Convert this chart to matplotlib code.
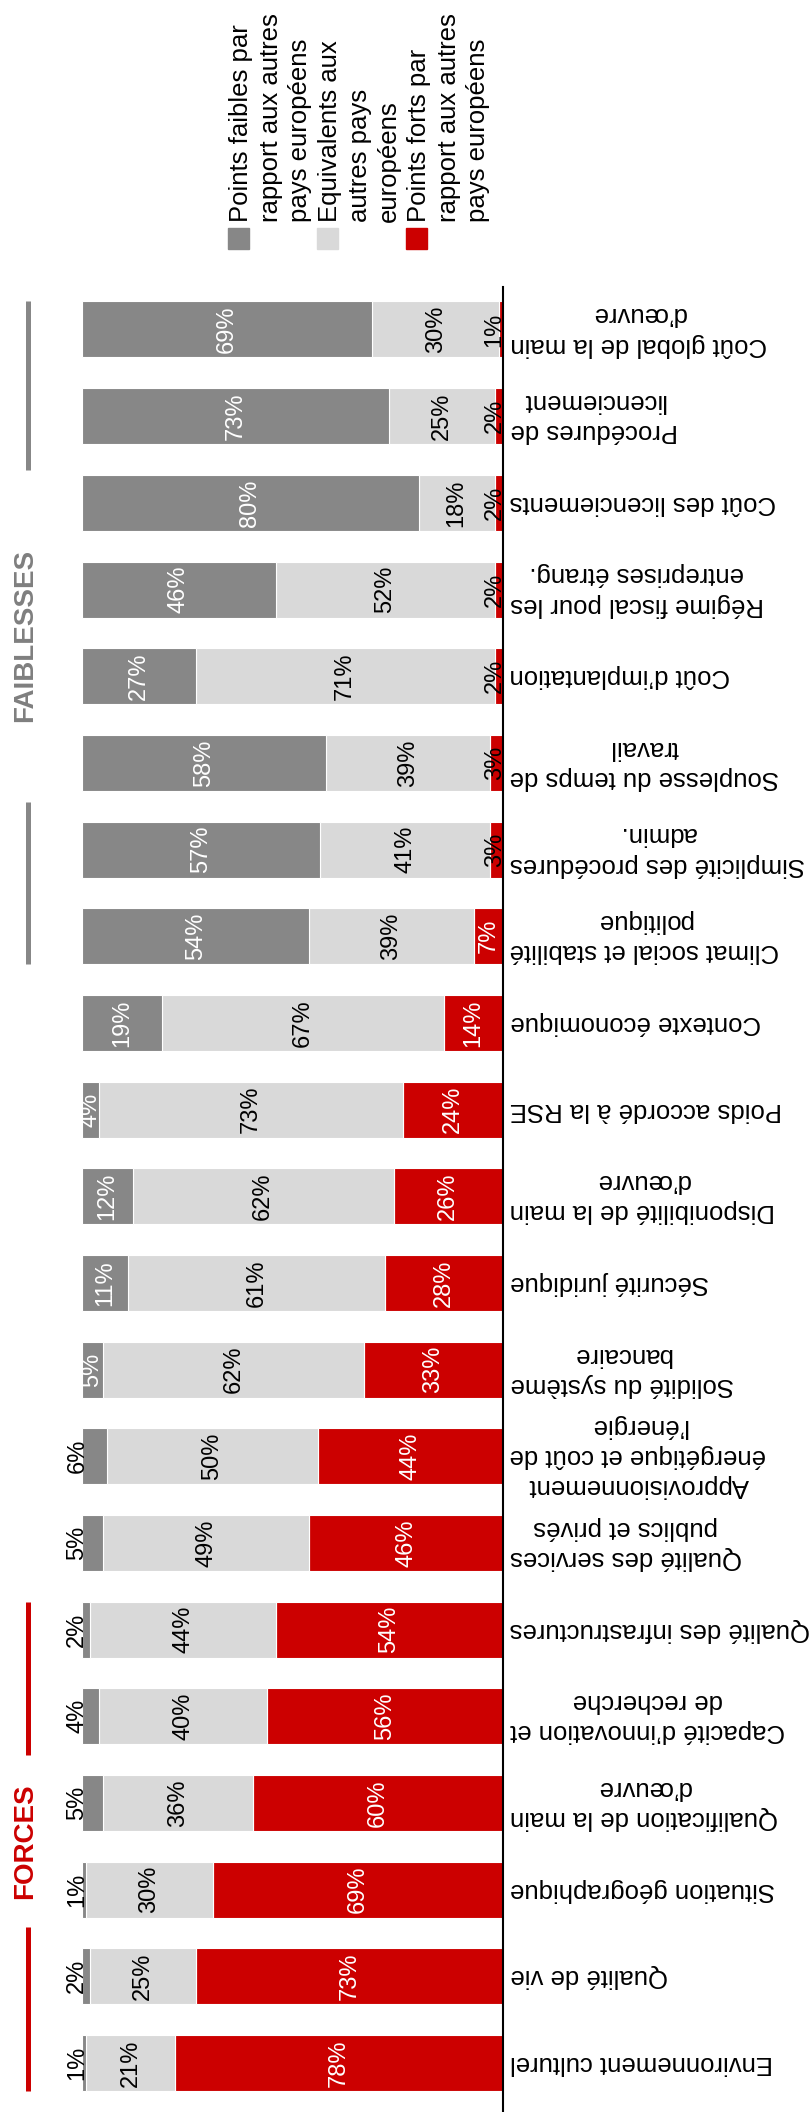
import matplotlib
matplotlib.use("Agg")
import matplotlib.pyplot as plt
from matplotlib.patches import Rectangle
import numpy as np

# categories from bottom to top of the picture
categories = [
    "Environnement culturel",
    "Qualité de vie",
    "Situation géographique",
    "Qualification de la main\nd’œuvre",
    "Capacité d’innovation et\nde recherche",
    "Qualité des infrastructures",
    "Qualité des services\npublics et privés",
    "Approvisionnement\nénergétique et coût de\nl’énergie",
    "Solidité du système\nbancaire",
    "Sécurité juridique",
    "Disponibilité de la main\nd’œuvre",
    "Poids accordé à la RSE",
    "Contexte économique",
    "Climat social et stabilité\npolitique",
    "Simplicité des procédures\nadmin.",
    "Souplesse du temps de\ntravail",
    "Coût d’implantation",
    "Régime fiscal pour les\nentreprises étrang.",
    "Coût des licenciements",
    "Procédures de\nlicenciement",
    "Coût global de la main\nd’œuvre",
]
forts = [78, 73, 69, 60, 56, 54, 46, 44, 33, 28, 26, 24, 14, 7, 3, 3, 2, 2, 2, 2, 1]
equivalents = [21, 25, 30, 36, 40, 44, 49, 50, 62, 61, 62, 73, 67, 39, 41, 39, 71, 52, 18, 25, 30]
faibles = [1, 2, 1, 5, 4, 2, 5, 6, 5, 11, 12, 4, 19, 54, 57, 58, 27, 46, 80, 73, 69]

legend_labels = [
    "Points faibles par\nrapport aux autres\npays européens",
    "Equivalents aux\nautres pays\neuropéens",
    "Points forts par\nrapport aux autres\npays européens",
]
# (title, first bar, last bar)
groups = [("FORCES", 0, 5), ("FAIBLESSES", 13, 20)]

C_DARK = "#878787"
C_LIGHT = "#d9d9d9"
C_RED = "#cc0000"

plt.rcParams["font.family"] = ["Liberation Sans", "DejaVu Sans"]

W, H = 811, 2112
fig = plt.figure(figsize=(W / 100, H / 100), dpi=100)
ax = fig.add_axes([82 / W, 0, 421 / W, (H - 287) / H])

n = len(categories)
y = np.arange(n)
r = np.array(forts, float)
m = np.array(equivalents, float)
d = np.array(faibles, float)
tot = r + m + d
r, m, d = 100 * r / tot, 100 * m / tot, 100 * d / tot

bh = 0.646
kw = dict(height=bh, edgecolor="white", linewidth=0.8)
ax.barh(y, r, color=C_RED, **kw)
ax.barh(y, m, left=r, color=C_LIGHT, **kw)
ax.barh(y, d, left=r + m, color=C_DARK, **kw)

ax.set_xlim(100, 0)
ax.set_ylim(-0.565, 20.49)
ax.set_xticks([])
ax.set_yticks([])
for s in ["top", "left", "bottom"]:
    ax.spines[s].set_visible(False)
ax.spines["right"].set_linewidth(1.5)
ax.spines["right"].set_color("black")

pct = dict(rotation=90, ha="center", va="center", fontsize=17)
for i in range(n):
    # red segment
    if forts[i] >= 7:
        ax.text(r[i] / 2, i, f"{forts[i]}%", color="white", **pct)
    else:
        ax.text(max(r[i] / 2, 2.0), i, f"{forts[i]}%", color="black", **pct)
    # light segment
    ax.text(r[i] + m[i] / 2, i, f"{equivalents[i]}%", color="black", **pct)
    # dark segment
    if i <= 7:
        ax.text(101.1, i, f"{faibles[i]}%", color="black", clip_on=False, **pct)
    else:
        ax.text(r[i] + m[i] + d[i] / 2, i, f"{faibles[i]}%", color="white", **pct)

ytr = ax.get_yaxis_transform()
for i, cat in enumerate(categories):
    ax.text(1.0 + 7 / 421, i, cat, transform=ytr, rotation=180, ha="left", va="center",
            multialignment="center", fontsize=18.5, linespacing=1.32, clip_on=False)

# group brackets: lines stop between bars, title in the gap
gap = {"FORCES": (3.55, 1.57), "FAIBLESSES": (18.38, 14.55)}
gcol = {"FORCES": C_RED, "FAIBLESSES": "#7f7f7f"}
lcol = {"FORCES": C_RED, "FAIBLESSES": C_DARK}
xb = (28 - 82) / 421
for name, lo, hi in groups:
    y0, y1 = lo - bh / 2, hi + bh / 2
    gtop, gbot = gap[name]
    for a, b in [(y0, gbot), (gtop, y1)]:
        ax.plot([xb, xb], [a, b], transform=ytr, color=lcol[name], lw=3.6,
                solid_capstyle="butt", clip_on=False)
    ax.text((25 - 82) / 421, (gtop + gbot) / 2, name, transform=ytr, rotation=90,
            ha="center", va="center", fontsize=20, fontweight="bold",
            color=gcol[name], clip_on=False)

# legend: one rotated text per line, baselines evenly spaced
step = 89 / 3
for k, (lab, col) in enumerate(zip(legend_labels, [C_DARK, C_LIGHT, C_RED])):
    x = 228 + 89 * k
    fig.patches.append(Rectangle((x / W, 1 - 249 / H), 21 / W, 21 / H,
                                 transform=fig.transFigure, color=col))
    for j, line in enumerate(lab.split("\n")):
        bx = x + 20 + j * step
        fig.text(bx / W, 1 - 222 / H, line, rotation=90, rotation_mode="anchor",
                 ha="left", va="baseline", fontsize=18.5)

fig.savefig("out.png", dpi=100)
